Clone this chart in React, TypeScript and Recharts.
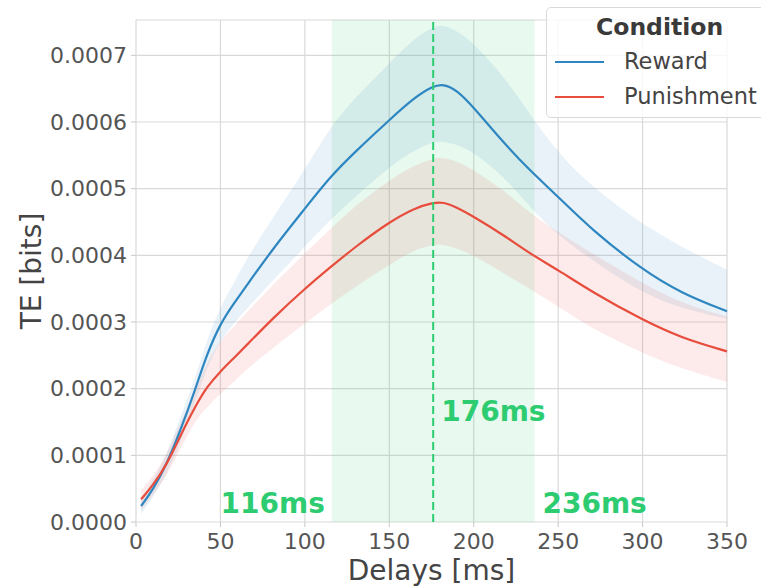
import {
  ComposedChart, Line, Area, XAxis, YAxis, CartesianGrid,
  ReferenceArea, ReferenceLine,
} from 'recharts'

// delay (ms) on the x axis
const delays = [3, 10, 18, 26, 35, 42, 50, 58, 65, 82, 100, 115, 130, 150, 165, 176, 182, 190, 200, 218, 233, 250, 270, 300, 323, 350]

const rewardMean = [0.000024, 0.000048, 0.000086, 0.000135, 0.000198, 0.000252, 0.000298, 0.000328, 0.000353, 0.000413, 0.00047, 0.000518, 0.000556, 0.000603, 0.000637, 0.000654, 0.000657, 0.000648, 0.000622, 0.000568, 0.000528, 0.000488, 0.000438, 0.000378, 0.000343, 0.000316]
const rewardHi = [0.000036, 0.000062, 0.0001, 0.000155, 0.000215, 0.000274, 0.000323, 0.000358, 0.000393, 0.00046, 0.000528, 0.000593, 0.000637, 0.000688, 0.000726, 0.000743, 0.000746, 0.000737, 0.000718, 0.000668, 0.000613, 0.000553, 0.000503, 0.000446, 0.000413, 0.000378]
const rewardLo = [0.000012, 0.000036, 0.000072, 0.000116, 0.000181, 0.000232, 0.000273, 0.000298, 0.000318, 0.000365, 0.000413, 0.000453, 0.000488, 0.000533, 0.000558, 0.00057, 0.000571, 0.000566, 0.000555, 0.000518, 0.000473, 0.00043, 0.000393, 0.000343, 0.00032, 0.000305]

const punishMean = [0.000034, 0.000055, 0.000085, 0.000128, 0.000173, 0.000203, 0.000226, 0.000246, 0.000264, 0.000308, 0.00035, 0.000382, 0.000413, 0.00045, 0.000471, 0.000479, 0.00048, 0.000472, 0.000458, 0.00043, 0.000403, 0.000378, 0.000345, 0.000303, 0.000276, 0.000256]
const punishHi = [0.000048, 0.000068, 0.0001, 0.000148, 0.000195, 0.00024, 0.000273, 0.000293, 0.000313, 0.000358, 0.000403, 0.000439, 0.000475, 0.000513, 0.000536, 0.000545, 0.000547, 0.000541, 0.000528, 0.000498, 0.000463, 0.000435, 0.000403, 0.000358, 0.000328, 0.000308]
const punishLo = [0.000018, 0.00004, 0.000068, 0.000108, 0.000152, 0.000172, 0.000193, 0.00021, 0.000228, 0.000263, 0.000298, 0.000326, 0.000353, 0.000386, 0.000408, 0.000416, 0.000416, 0.00041, 0.0004, 0.000373, 0.00035, 0.000323, 0.00029, 0.000253, 0.00023, 0.00021]

const xTicks = [0, 50, 100, 150, 200, 250, 300, 350]
const yTicks = [0, 0.0001, 0.0002, 0.0003, 0.0004, 0.0005, 0.0006, 0.0007]

const windowStart = 116
const windowPeak = 176
const windowEnd = 236

const BLUE = '#2E86C1'
const RED = '#E74C3C'
const GREEN = '#2ECC71'
const FONT = '"DejaVu Sans", sans-serif'

const data = delays.map((d, i) => ({
  delay: d,
  reward: rewardMean[i],
  rewardBand: [rewardLo[i], rewardHi[i]],
  punish: punishMean[i],
  punishBand: [punishLo[i], punishHi[i]],
}))

const msLabel = (text: string, side: 'left' | 'right', fromBottom: number) =>
  ({ viewBox }: any) => {
    const { x, y, height } = viewBox
    return (
      <text
        x={side === 'right' ? x + 8 : x - 7}
        y={y + height - fromBottom}
        textAnchor={side === 'right' ? 'start' : 'end'}
        fontFamily={FONT}
        fontWeight="bold"
        fontSize={28}
        fill={GREEN}
      >
        {text}
      </text>
    )
  }

function LegendBox() {
  const item = (name: string, color: string, top: number) => (
    <div style={{ position: 'absolute', left: 0, top, display: 'flex', alignItems: 'center' }}>
      <div style={{ position: 'absolute', left: 8, width: 49, height: 2, background: color }} />
      <span style={{ position: 'absolute', left: 77, whiteSpace: 'nowrap', fontSize: 22.5, color: '#444', lineHeight: '26px', top: -14 }}>
        {name}
      </span>
    </div>
  )
  return (
    <div style={{
      position: 'absolute', left: 546, top: 7, width: 240, height: 111,
      border: '1px solid #dadada', borderRadius: 5, background: 'rgba(255,255,255,0.8)',
      fontFamily: FONT, boxSizing: 'border-box',
    }}>
      <div style={{ position: 'absolute', left: 49, top: 5, fontWeight: 'bold', fontSize: 23.5, color: '#3a3a3a' }}>
        Condition
      </div>
      {item('Reward', BLUE, 54)}
      {item('Punishment', RED, 89)}
    </div>
  )
}

export default function App() {
  return (
    <div style={{ position: 'absolute', left: 0, top: 0, width: 761, height: 586, overflow: 'hidden', background: '#fff' }}>
      <ComposedChart
        width={761}
        height={586}
        data={data}
        margin={{ top: 20, right: 34, left: 0, bottom: 0 }}
      >
        <CartesianGrid stroke="#d9d9d9" strokeWidth={1.2} />
        <ReferenceArea
          x1={windowStart}
          x2={windowEnd}
          fill={GREEN}
          fillOpacity={0.11}
          stroke="none"
        />
        <XAxis
          dataKey="delay"
          type="number"
          domain={[0, 350]}
          ticks={xTicks}
          height={64}
          axisLine={false}
          tickSize={5}
          tickMargin={6}
          tickLine={{ stroke: '#c8c8c8' }}
          tick={{ fontSize: 22, fill: '#555', fontFamily: FONT }}
          label={({ viewBox }: any) => (
            <text
              x={viewBox.x + viewBox.width / 2}
              y={viewBox.y + 58}
              textAnchor="middle"
              fontSize={28}
              fill="#444"
              fontFamily={FONT}
            >
              Delays [ms]
            </text>
          )}
        />
        <YAxis
          type="number"
          domain={[0, 0.000753]}
          ticks={yTicks}
          width={136}
          axisLine={false}
          tickSize={5}
          tickMargin={4}
          tickLine={{ stroke: '#c8c8c8' }}
          tickFormatter={(v: number) => v.toFixed(4)}
          tick={{ fontSize: 22, fill: '#555', fontFamily: FONT }}
          label={({ viewBox }: any) => {
            const cx = viewBox.x + 41
            const cy = viewBox.y + viewBox.height / 2
            return (
              <text
                x={cx}
                y={cy}
                transform={`rotate(-90 ${cx} ${cy})`}
                textAnchor="middle"
                fontSize={28}
                fill="#444"
                fontFamily={FONT}
              >
                TE [bits]
              </text>
            )
          }}
        />
        <Area
          dataKey="rewardBand"
          type="basis"
          fill={BLUE}
          fillOpacity={0.11}
          stroke="none"
          isAnimationActive={false}
          activeDot={false}
        />
        <Area
          dataKey="punishBand"
          type="basis"
          fill={RED}
          fillOpacity={0.11}
          stroke="none"
          isAnimationActive={false}
          activeDot={false}
        />
        <Line
          dataKey="reward"
          type="basis"
          stroke={BLUE}
          strokeWidth={2.2}
          dot={false}
          isAnimationActive={false}
        />
        <Line
          dataKey="punish"
          type="basis"
          stroke={RED}
          strokeWidth={2.2}
          dot={false}
          isAnimationActive={false}
        />
        <ReferenceLine
          x={windowPeak}
          stroke={GREEN}
          strokeWidth={2}
          strokeDasharray="8 4"
          label={msLabel(`${windowPeak}ms`, 'right', 101.5)}
        />
        <ReferenceLine
          x={windowStart}
          stroke="none"
          label={msLabel(`${windowStart}ms`, 'left', 9)}
        />
        <ReferenceLine
          x={windowEnd}
          stroke="none"
          label={msLabel(`${windowEnd}ms`, 'right', 9)}
        />
      </ComposedChart>
      <LegendBox />
    </div>
  )
}
